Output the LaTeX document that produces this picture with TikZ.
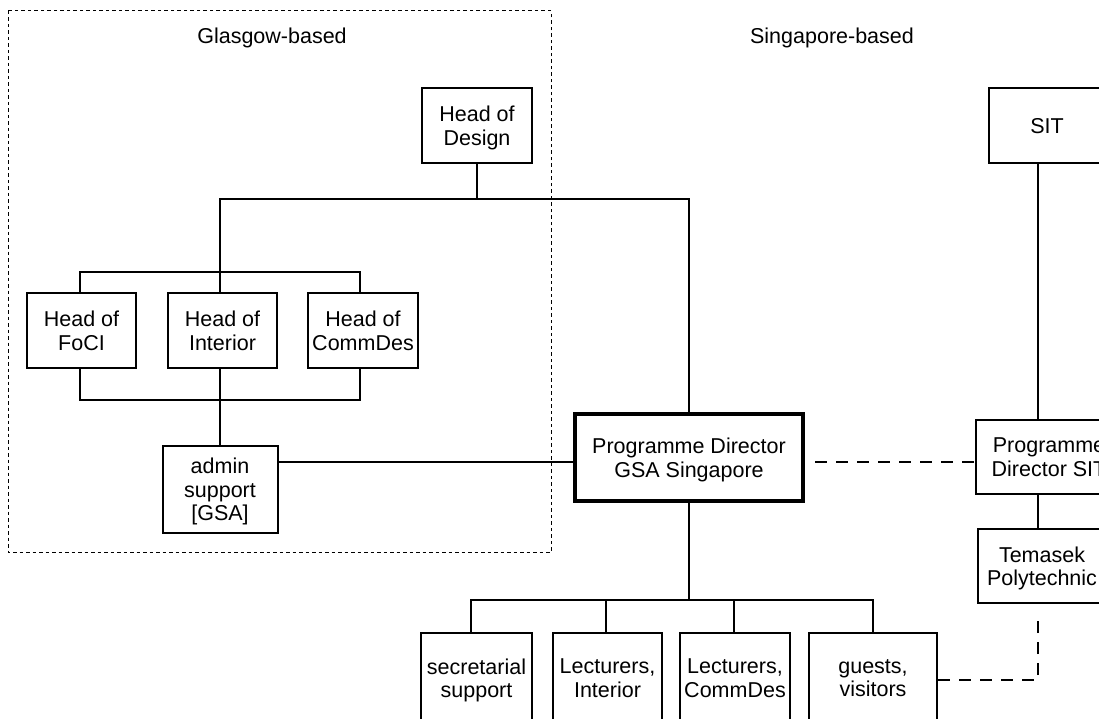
\documentclass[tikz,border=0pt]{standalone}
\usepackage{fontspec}
\setmainfont{Liberation Sans}
\begin{document}
\begin{tikzpicture}[x=1pt,y=-1pt,
  every node/.style={font=\fontsize{21.5}{23.5}\selectfont},
  box/.style={draw, line width=2pt, align=center, inner sep=0pt, text depth=0pt},
  con/.style={line width=2pt},
  dashcon/.style={line width=2pt, dash pattern=on 12pt off 9pt},
  region/.style={line width=1pt, dash pattern=on 3.5pt off 3pt}]
\useasboundingbox (0,0) rectangle (1099,719);
\clip (0,0) rectangle (1099,719);
% region
\draw[region] (8,11) rectangle (551,552);
\node (glas) at (272,38) {Glasgow-based};
\node (sing) at (832,38) {Singapore-based};
% nodes
\node[box, minimum width=110pt, minimum height=75pt] (hod) at (477,125.5) {Head of\\Design};
\node[box, minimum width=109pt, minimum height=75pt] (foci) at (81.5,330.5) {Head of\\FoCI};
\node[box, minimum width=109pt, minimum height=75pt] (hoi) at (222.5,330.5) {Head of\\Interior};
\node[box, minimum width=110pt, minimum height=75pt] (hcd) at (363,330.5) {Head of\\CommDes};
\node[box, minimum width=115pt, minimum height=87pt] (admin) at (220,489.5) {admin\\support\\{[GSA]}};
\node[box, line width=4pt, minimum width=228pt, minimum height=87pt] (pdg) at (689,457.5) {Programme Director\\GSA Singapore};
\node[box, minimum width=116pt, minimum height=75pt] (sit) at (1047,125.5) {SIT};
\node[box, minimum width=146pt, minimum height=74pt] (pds) at (1049,457) {Programme\\Director SIT};
\node[box, minimum width=128pt, minimum height=74pt] (tem) at (1042,566) {Temasek\\Polytechnic};
\node[box, minimum width=111pt, minimum height=90pt] (sec) at (476.5,678) {secretarial\\support};
\node[box, minimum width=109pt, minimum height=90pt] (li) at (607.5,678) {Lecturers,\\Interior};
\node[box, minimum width=110pt, minimum height=90pt] (lc) at (735,678) {Lecturers,\\CommDes};
\node[box, minimum width=128pt, minimum height=90pt] (gv) at (873,678) {guests,\\visitors};
\coordinate (rx) at (1038,0);
% connectors
\draw[con] (hod.south) -- ++(0,35) coordinate (j1);
\draw[con] ([xshift=-2.5pt]hoi.north) -- ([xshift=-2.5pt]hoi.north |- j1) -- (pdg.north |- j1) -- (pdg.north);
\draw[con] ([xshift=-1.5pt]foci.north) -- ++(0,-20) -| ([xshift=-3pt]hcd.north);
\draw[con] ([xshift=-1.5pt]foci.south) -- ++(0,31) -| ([xshift=-3pt]hcd.south);
\draw[con] ([xshift=-2.5pt]hoi.south) -- ([xshift=-2.5pt]hoi.south |- admin.north);
\draw[con] ([yshift=27.5pt]admin.east) coordinate (a1) -- (a1 -| pdg.west);
\draw[dashcon] ([xshift=10pt]pdg.east |- a1) -- (a1 -| pds.west);
\draw[con] (sit.south -| rx) -- (pds.north -| rx);
\draw[con] (pds.south -| rx) -- (tem.north -| rx);
\draw[con] (pdg.south) -- ++(0,97) coordinate (j2);
\draw[con] ([xshift=-5.5pt]sec.north) -- ([xshift=-5.5pt]sec.north |- j2) -- (gv.north |- j2) -- (gv.north);
\draw[con] ([xshift=-1.5pt]li.north) -- ([xshift=-1.5pt]li.north |- j2);
\draw[con] ([xshift=-1pt]lc.north) -- ([xshift=-1pt]lc.north |- j2);
\draw[dashcon] ([yshift=-2pt]gv.east) -- ([yshift=-2pt]gv.east -| rx) -- ([yshift=-13pt]tem.south -| rx);
\end{tikzpicture}
\end{document}
